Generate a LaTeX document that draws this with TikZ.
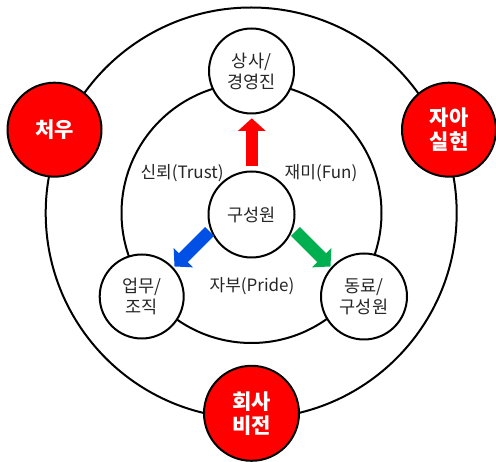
\documentclass[tikz,border=0pt]{standalone}
\usepackage{fontspec}
\setmainfont{Noto Sans CJK KR}
\usetikzlibrary{arrows.meta}
\definecolor{myred}{RGB}{255,0,0}
\definecolor{myblue}{RGB}{0,80,230}
\definecolor{mygreen}{RGB}{0,176,80}
\tikzset{
  ring/.style={draw=black, line width=2pt},
  wcirc/.style={circle, draw=black, line width=2pt, fill=white, inner sep=0pt, align=center,
    font=\fontsize{17.5}{21}\selectfont, text=black!85},
  rcirc/.style={circle, draw=black, line width=2pt, fill=myred, inner sep=0pt, minimum size=94pt,
    align=center, font=\fontsize{21}{24}\selectfont\bfseries, text=white},
  lbl/.style={font=\fontsize{17}{20}\selectfont, text=black!85, inner sep=0pt},
  blockarrow/.style={line width=12.6pt, -{Triangle[width=26.7pt,length=12.5pt]}}
}
\begin{document}
\begin{tikzpicture}[x=1pt,y=-1pt]
\useasboundingbox (0,0) rectangle (496,462);
% rings
\draw[ring] (251.2,213) circle[radius=205.5];
\draw[ring] (251.5,213) circle[radius=130];
% nodes
\node[wcirc, minimum size=86pt] (c) at (251.5,214.5) {구성원};
\node[wcirc, minimum size=85pt] (top) at (251.5,71) {상사/\\경영진};
\node[wcirc, minimum size=84pt] (left) at (141.7,296.5) {업무/\\조직};
\node[wcirc, minimum size=86pt] (right) at (364,296.5) {동료/\\구성원};
\node[rcirc] (r1) at (54.5,129.7) {처우};
\node[rcirc] (r2) at (449,129.7) {자아\\실현};
\node[rcirc, minimum size=95pt] (r3) at (251.5,413.3) {회사\\비전};
% labels
\node[lbl] (l1) at (182,173) {신뢰(Trust)};
\node[lbl] (l2) at (321,173) {재미(Fun)};
\node[lbl] (l3) at (252,286) {자부(Pride)};
% arrow end points
\coordinate (rt) at (251.8,166);
\coordinate (rh) at (251.8,118.3);
\coordinate (bt) at (209.5,231.5);
\coordinate (bh) at (174.5,266.5);
\coordinate (gt) at (295.5,231.5);
\coordinate (gh) at (330.5,266.5);
\draw[blockarrow, myred] (rt) -- (rh);
\draw[blockarrow, myblue] (bt) -- (bh);
\draw[blockarrow, mygreen] (gt) -- (gh);
\end{tikzpicture}
\end{document}
